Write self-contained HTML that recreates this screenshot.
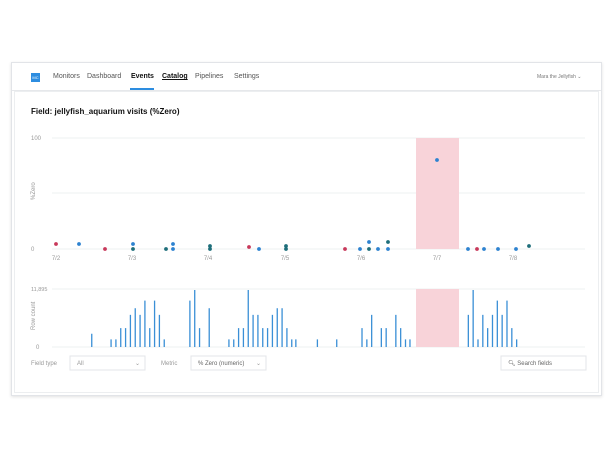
<!DOCTYPE html>
<html><head><meta charset="utf-8"><style>
html,body{margin:0;padding:0;background:#fff;width:610px;height:457px;overflow:hidden;font-family:"Liberation Sans",sans-serif}
.card{position:absolute;left:11px;top:62px;width:589px;height:332px;border:1px solid #e2e4e8;box-shadow:0 1px 3px rgba(0,0,0,.12);background:#fff}
.hdr{position:absolute;left:0;top:0;right:0;height:27px;border-bottom:1px solid #e6e8eb}
.nav{position:absolute;top:10px;font-size:7px;color:#555}
.in{position:absolute;left:2px;top:28px;right:2px;bottom:2px;border:1px solid #eceef0}
</style></head><body>
<div class="card">
 <div class="hdr">
  <div style="position:absolute;left:19px;top:10px;width:9px;height:9px;background:#2d8de0;color:#fff;font-size:4px;line-height:9px;text-align:center">MC</div>
  <div class="nav" style="left:41px">Monitors</div>
  <div class="nav" style="left:75px">Dashboard</div>
  <div class="nav" style="left:119px;color:#111;font-weight:bold">Events</div>
  <div style="position:absolute;left:118px;top:25px;width:24px;height:2px;background:#2d8de0"></div>
  <div class="nav" style="left:150px;color:#111;font-weight:bold;text-decoration:underline">Catalog</div>
  <div class="nav" style="left:183px">Pipelines</div>
  <div class="nav" style="left:222px">Settings</div>
  <div class="nav" style="left:525px;font-size:5px;top:11px;color:#777">Mara the Jellyfish ⌄</div>
 </div>
 <div class="in"></div>
 <div style="position:absolute;left:19px;top:44px;font-size:8px;font-weight:bold;color:#111">Field: jellyfish_aquarium visits (%Zero)</div>
</div>
<svg width="610" height="457" style="position:absolute;left:0;top:0" font-family="Liberation Sans" id="s">
 <g stroke="#eef0f2" stroke-width="1">
  <line x1="52" x2="585" y1="138" y2="138"/><line x1="52" x2="585" y1="193" y2="193"/><line x1="52" x2="585" y1="249" y2="249"/>
  <line x1="52" x2="585" y1="289" y2="289"/><line x1="52" x2="585" y1="347" y2="347"/>
 </g>
 <rect x="416" y="138" width="43" height="111" fill="#f8d3d9"/>
 <rect x="416" y="289" width="43" height="58" fill="#f8d3d9"/>
 <g font-size="6" fill="#999">
  <text x="31" y="140">100</text><text x="31" y="251">0</text>
  <text x="31" y="291" font-size="5.5">11,895</text><text x="36" y="349">0</text>
  <text transform="translate(35,200) rotate(-90)">%Zero</text>
  <text transform="translate(35,330) rotate(-90)">Row count</text>
  <g text-anchor="middle"><text x="56" y="260">7/2</text><text x="132" y="260">7/3</text><text x="208" y="260">7/4</text><text x="285" y="260">7/5</text><text x="361" y="260">7/6</text><text x="437" y="260">7/7</text><text x="513" y="260">7/8</text></g>
 </g>
 <g id="bars" stroke="#3a8fd6" stroke-width="1.3"></g>
 <g id="dots"></g>
 <g font-size="6" fill="#999">
  <text x="31" y="365">Field type</text>
  <rect x="70" y="356" width="75" height="14" fill="#fff" stroke="#e3e5e8"/><text x="77" y="365">All</text><text x="135" y="365">⌄</text>
  <text x="161" y="365">Metric</text>
  <rect x="191" y="356" width="75" height="14" fill="#fff" stroke="#e3e5e8"/><text x="198" y="365" fill="#666">% Zero (numeric)</text><text x="256" y="365">⌄</text>
  <rect x="501" y="356" width="85" height="14" fill="#fff" stroke="#e3e5e8"/><text x="508" y="365" fill="#666">🔍︎ Search fields</text>
 </g>
</svg>
<script>
var ns="http://www.w3.org/2000/svg";
var b=[[193,160],[245,177],[258,177],[271,143],[284,143],[297,103],[310,83],[323,103],[336,60],[349,143],[362,60],[375,103],[388,177],[457,60],[470,28],[483,143],[509,83],[562,177],[575,177],[588,143],[601,143],[614,28],[627,103],[640,103],[653,143],[666,143],[679,103],[692,83],[705,83],[718,143],[731,177],[742,177],[800,177],[852,177],[920,143],[933,177],[946,103],[972,143],[985,143],[1011,103],[1024,143],[1037,177],[1049,177],[1206,103],[1219,28],[1232,177],[1245,103],[1258,143],[1271,103],[1284,60],[1297,103],[1310,60],[1323,143],[1336,177]];
var g=document.getElementById("bars");
b.forEach(function(p){var x=20+p[0]/2.69,y=289+(p[1]-25)*58/175;var l=document.createElementNS(ns,"line");l.setAttribute("x1",x);l.setAttribute("x2",x);l.setAttribute("y1",y);l.setAttribute("y2",347);g.appendChild(l);});
var R="#c8385a",B="#2d82d0",G="#1e6e7a";
var d=[[56,244,R],[79,244,B],[105,249,R],[133,244,B],[133,249,G],[166,249,G],[173,244,B],[173,249,B],[210,246,G],[210,249,G],[249,247,R],[259,249,B],[286,246,G],[286,249,G],[345,249,R],[360,249,B],[369,242,B],[369,249,G],[378,249,B],[388,242,G],[388,249,B],[437,160,B],[468,249,B],[477,249,R],[484,249,B],[498,249,B],[516,249,B],[529,246,G]];
var h=document.getElementById("dots");
d.forEach(function(p){var c=document.createElementNS(ns,"circle");c.setAttribute("cx",p[0]);c.setAttribute("cy",p[1]);c.setAttribute("r",1.9);c.setAttribute("fill",p[2]);h.appendChild(c);});
</script>
</body></html>
